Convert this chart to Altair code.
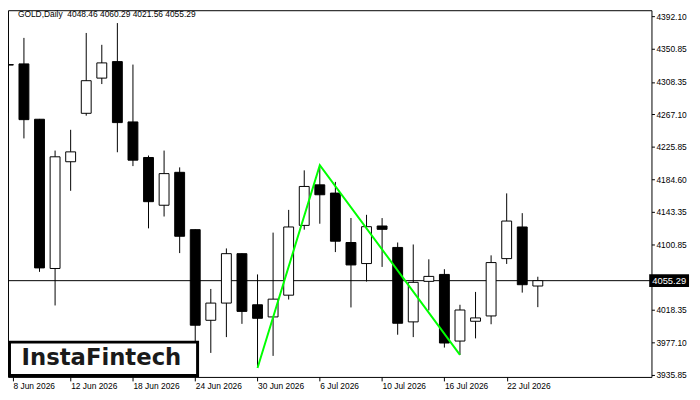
import altair as alt
import pandas as pd

# ---- data ----
dates = ["8 Jun 2026", "9 Jun 2026", "10 Jun 2026", "11 Jun 2026", "12 Jun 2026",
         "15 Jun 2026", "16 Jun 2026", "17 Jun 2026", "18 Jun 2026", "19 Jun 2026",
         "22 Jun 2026", "23 Jun 2026", "24 Jun 2026", "25 Jun 2026", "26 Jun 2026",
         "29 Jun 2026", "30 Jun 2026", "1 Jul 2026", "2 Jul 2026", "3 Jul 2026",
         "6 Jul 2026", "7 Jul 2026", "8 Jul 2026", "9 Jul 2026", "10 Jul 2026",
         "13 Jul 2026", "14 Jul 2026", "15 Jul 2026", "16 Jul 2026", "17 Jul 2026",
         "20 Jul 2026", "21 Jul 2026", "22 Jul 2026", "23 Jul 2026", "24 Jul 2026"]
opens = [4330.4, 4331.31, 4260.83, 4070.78, 4206.71, 4268.38, 4313.19, 4334.20, 4257.43, 4212.12,
         4151.33, 4193.24, 4120.24, 4004.83, 4026.73, 4089.66, 4024.59, 4009.11, 4036.80, 4125.65,
         4177.26, 4166.81, 4103.88, 4077.07, 4124.90, 4097.59, 4002.81, 4054.42, 4063.23, 3978.40,
         4003.57, 4010.37, 4083.37, 4123.64, 4048.46]
highs = [4354.34, 4364.41, 4261.20, 4220.93, 4247.36, 4370.70, 4355.60, 4383.29, 4330.43, 4214.64,
         4220.93, 4199.53, 4120.50, 4044.73, 4096.33, 4090.00, 4063.23, 4116.47, 4145.41, 4195.76,
         4201.50, 4181.03, 4135.09, 4139.12, 4134.97, 4103.88, 4101.36, 4082.48, 4069.90, 4024.59,
         4040.95, 4087.52, 4166.43, 4141.26, 4060.29]
lows = [4269.13, 4236.41, 4066.50, 4023.71, 4169.71, 4265.36, 4305.63, 4218.79, 4201.17, 4121.88,
        4136.98, 4090.41, 3966.69, 3963.30, 3983.43, 4000.30, 3945.50, 3959.52, 4031.26, 4120.24,
        4127.79, 4091.67, 4021.19, 4054.17, 4072.79, 3986.45, 3983.43, 4017.41, 3970.09, 3960.78,
        3981.80, 3999.79, 4076.57, 4040.07, 4021.56]
closes = [4329.8, 4260.32, 4071.53, 4213.00, 4219.29, 4309.91, 4332.57, 4256.55, 4208.72, 4155.86,
          4191.60, 4111.81, 3998.54, 4026.73, 4089.66, 4016.16, 4007.35, 4031.76, 4123.64, 4175.24,
          4164.67, 4105.52, 4075.31, 4124.02, 4120.62, 4001.05, 4053.16, 4060.71, 3975.88, 4017.92,
          4007.85, 4078.33, 4131.19, 4050.14, 4055.29]

pattern_idx = [16, 20, 29]
pattern_price = [3944.0, 4202.4, 3960.8]

y_ticks = [4392.10, 4350.85, 4308.35, 4267.10, 4225.85, 4184.60, 4143.35,
           4100.85, 4059.60, 4018.35, 3977.10, 3935.85]
x_tick_idx = [4, 8, 12, 16, 20, 24, 28, 32]

symbol = "GOLD,Daily"
logo_text = "InstaFintech"

# ---- scales ----
x_min, x_max = 0.294, 40.981
y_min, y_max = 3932.71, 4399.65
FONT = "Liberation Sans"

df = pd.DataFrame({
    "idx": list(range(len(dates))),
    "date": dates,
    "open": opens, "high": highs, "low": lows, "close": closes,
})
df["dir"] = ["up" if c >= o else "down" for o, c in zip(opens, closes)]

pat = pd.DataFrame({"idx": pattern_idx, "price": pattern_price})
last = pd.DataFrame({"close": [closes[-1]]})
hdr = pd.DataFrame({"t": [f"{symbol}\u00a0 {opens[-1]:.2f} {highs[-1]:.2f} {lows[-1]:.2f} {closes[-1]:.2f}"]})
logo = pd.DataFrame({"t": [logo_text]})

label_arr = "[" + ",".join(f"'{d}'" for d in dates) + "]"

xs = alt.Scale(domain=[x_min, x_max], nice=False, zero=False)
ys = alt.Scale(domain=[y_min, y_max], nice=False, zero=False)

x_axis = alt.Axis(values=[x_min] + x_tick_idx, labelExpr=f"{label_arr}[round(datum.value)]",
                  tickSize=4, labelPadding=1, labelAlign="left", domain=False, grid=False,
                  title=None, labelFont=FONT, labelFontSize=8.5, labelColor="black",
                  tickColor="black", labelOverlap=False)
y_axis = alt.Axis(orient="right", values=y_ticks, format=".2f", tickSize=3, labelPadding=1.5,
                  domain=False, grid=False, title=None, labelFont=FONT, labelFontSize=8.5,
                  labelColor="black", tickColor="black", labelOverlap=False, labelBound=False,
                  labelFlush=False)

base = alt.Chart(df)

price_rule = alt.Chart(last).mark_rule(color="black", strokeWidth=1).encode(
    y=alt.Y("close:Q", scale=ys, axis=y_axis))

wicks = base.mark_rule(color="black", strokeWidth=1, clip=True).encode(
    x=alt.X("idx:Q", scale=xs, axis=x_axis),
    y=alt.Y("low:Q", scale=ys, axis=y_axis),
    y2="high:Q")

bodies = base.mark_bar(size=10, stroke="black", strokeWidth=1, clip=True).encode(
    x=alt.X("idx:Q", scale=xs, axis=x_axis),
    y=alt.Y("open:Q", scale=ys, axis=y_axis),
    y2="close:Q",
    fill=alt.Fill("dir:N", scale=alt.Scale(domain=["up", "down"], range=["white", "black"]), legend=None))

pattern = alt.Chart(pat).mark_line(color="#00ff00", strokeWidth=2, clip=True).encode(
    x=alt.X("idx:Q", scale=xs, axis=x_axis), y=alt.Y("price:Q", scale=ys, axis=y_axis))

logo_box = alt.Chart(logo).mark_rect(fill="white", stroke="black", strokeWidth=3).encode(
    x=alt.value(1.5), x2=alt.value(191.8), y=alt.value(335.8), y2=alt.value(369.5))
logo_txt = alt.Chart(logo).mark_text(font="DejaVu Sans", fontWeight="bold", fontSize=23,
                                     align="center", baseline="middle", color="#1a1a1a").encode(
    x=alt.value(94.5), y=alt.value(351.5), text="t:N")

header = alt.Chart(hdr).mark_text(font=FONT, fontSize=8.5, align="left", baseline="middle",
                                  color="black").encode(
    x=alt.value(10), y=alt.value(4), text="t:N")

price_box = alt.Chart(last).mark_rect(color="black", yOffset=-6.4, y2Offset=6.4, clip=False).encode(
    x=alt.value(648.7), x2=alt.value(689), y=alt.Y("close:Q", scale=ys, axis=y_axis), y2="close:Q")
price_txt = alt.Chart(last).mark_text(font=FONT, fontSize=9.5, color="white", align="center",
                                      baseline="middle", clip=False).encode(
    x=alt.value(668.9), y=alt.Y("close:Q", scale=ys, axis=y_axis), text=alt.Text("close:Q", format=".2f"))

chart = alt.layer(price_rule, wicks, bodies, pattern, logo_box, logo_txt, header,
                  price_box, price_txt).properties(
    width=651, height=371,
    autosize=alt.AutoSizeParams(type="none"),
    padding={"left": 0, "top": 0, "right": 41, "bottom": 13},
    background="white",
).configure_view(stroke="black", strokeWidth=1).configure_axis(labelOverlap=False)

chart.save("out.html", embed_options={"renderer": "svg", "actions": False})
